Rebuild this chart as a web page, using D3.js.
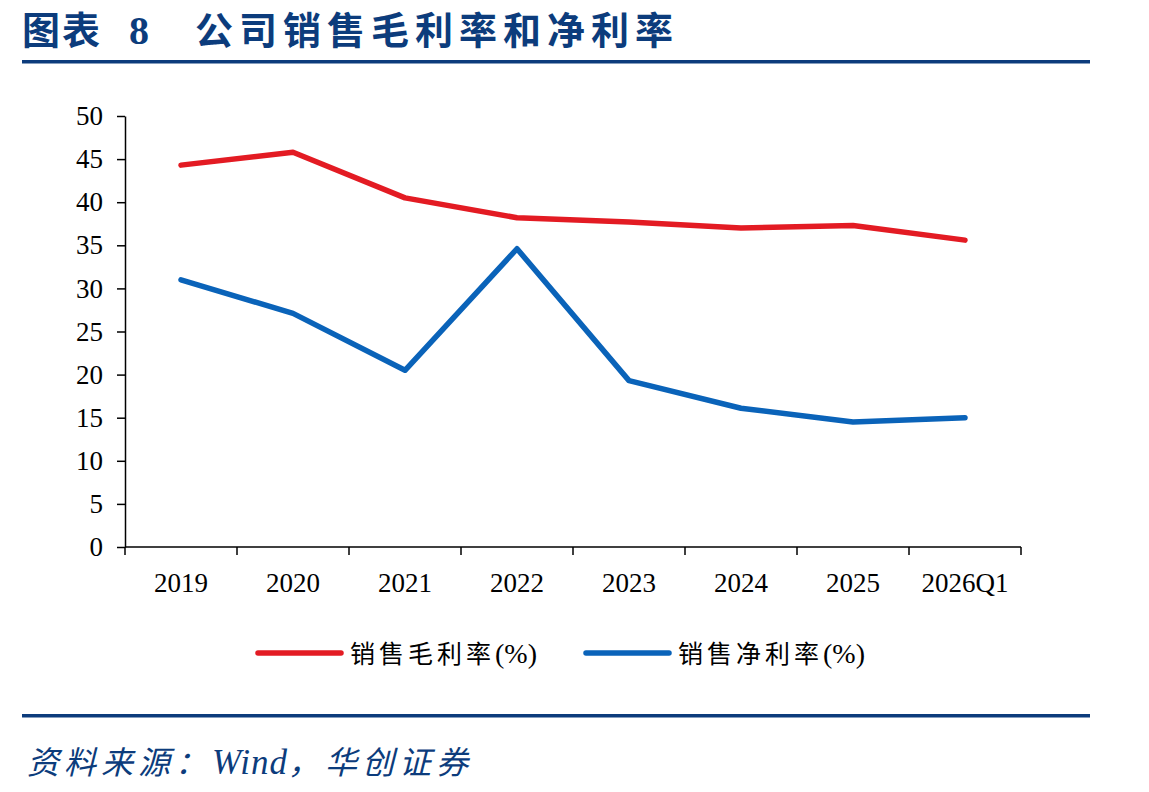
<!DOCTYPE html>
<html>
<head>
<meta charset="utf-8">
<script src="https://cdn.jsdelivr.net/npm/d3@7"></script>
<style>
  body { margin: 0; background: #fff; }
  svg { display: block; }
</style>
</head>
<body>
<svg id="chart" width="1149" height="792"></svg>
<script>
// data
const years = ["2019", "2020", "2021", "2022", "2023", "2024", "2025", "2026Q1"];
const grossMargin = [44.3, 45.8, 40.5, 38.2, 37.7, 37.0, 37.3, 35.6];
const netMargin = [31.0, 27.1, 20.5, 34.6, 19.3, 16.1, 14.5, 15.0];
const yTicks = [0, 5, 10, 15, 20, 25, 30, 35, 40, 45, 50];
const seriesNames = ["销售毛利率", "销售净利率"];

const navy = "#0c3c7c";
const red = "#e31b23";
const blue = "#0a63b9";
const numFont = "'Liberation Serif', 'Times New Roman', serif";
const cjkFont = "'Noto Sans CJK SC', sans-serif";

const svg = d3.select("#chart");

// title
const title = svg.append("text")
    .attr("y", 44)
    .attr("fill", navy)
    .style("font-family", cjkFont)
    .style("font-weight", "bold")
    .style("font-size", "38px");
title.append("tspan").attr("x", 22).style("letter-spacing", "2px").text("图表");
title.append("tspan").attr("x", 129).style("font-family", numFont).style("font-size", "40px").text("8");
title.append("tspan").attr("x", 195).style("letter-spacing", "6px").text("公司销售毛利率和净利率");

svg.append("rect").attr("x", 22).attr("y", 60).attr("width", 1068).attr("height", 3.5).attr("fill", navy);
svg.append("rect").attr("x", 22).attr("y", 714).attr("width", 1068).attr("height", 3.5).attr("fill", navy);

// source
const src = svg.append("text")
    .attr("x", 27).attr("y", 774)
    .attr("fill", navy)
    .style("font-family", cjkFont)
    .style("font-style", "italic")
    .style("font-size", "32px")
    .style("letter-spacing", "5px");
src.append("tspan").text("资料来源：");
src.append("tspan").style("font-family", numFont).style("font-size", "35px").style("letter-spacing", "1px").text("Wind");
src.append("tspan").text("，华创证券");

const x = d3.scaleBand().domain(years).range([125, 1021]);
const y = d3.scaleLinear().domain([0, 50]).range([547, 116]);

// y axis
const yAxis = svg.append("g")
    .attr("transform", "translate(125,0)")
    .call(d3.axisLeft(y).tickValues(yTicks).tickSize(8).tickSizeOuter(0).tickPadding(14));
yAxis.select(".domain").attr("stroke", "#000").attr("stroke-width", 1.5);
yAxis.selectAll(".tick line").attr("stroke", "#000").attr("stroke-width", 1.5);
yAxis.selectAll("text")
    .style("font-family", numFont)
    .style("font-size", "27px")
    .attr("fill", "#000");

// x axis with ticks at band edges
const xAxis = svg.append("g").attr("transform", "translate(0,547)");
xAxis.append("line").attr("x1", 125).attr("x2", 1021).attr("stroke", "#000").attr("stroke-width", 1.5);
const edges = years.map(d => x(d)).concat([x.range()[1]]);
xAxis.selectAll(".edge").data(edges).join("line")
    .attr("class", "edge")
    .attr("x1", d => d).attr("x2", d => d)
    .attr("y1", 0).attr("y2", 8)
    .attr("stroke", "#000").attr("stroke-width", 1.5);
xAxis.selectAll(".lbl").data(years).join("text")
    .attr("class", "lbl")
    .attr("x", d => x(d) + x.bandwidth() / 2)
    .attr("y", 45)
    .attr("text-anchor", "middle")
    .style("font-family", numFont)
    .style("font-size", "27px")
    .text(d => d);

// lines
const line = d3.line()
    .x((d, i) => x(years[i]) + x.bandwidth() / 2)
    .y(d => y(d));

[[grossMargin, red], [netMargin, blue]].forEach(([vals, color]) => {
    svg.append("path")
        .datum(vals)
        .attr("d", line)
        .attr("fill", "none")
        .attr("stroke", color)
        .attr("stroke-width", 5.5)
        .attr("stroke-linejoin", "round")
        .attr("stroke-linecap", "round");
});

// legend
const legend = [[258, red], [586, blue]];
legend.forEach(([lx, color], i) => {
    svg.append("line")
        .attr("x1", lx).attr("x2", lx + 83)
        .attr("y1", 653).attr("y2", 653)
        .attr("stroke", color).attr("stroke-width", 5.5)
        .attr("stroke-linecap", "round");
    const t = svg.append("text")
        .attr("x", lx + 92).attr("y", 663)
        .style("font-family", cjkFont)
        .style("font-size", "25px")
        .style("letter-spacing", "4px");
    t.append("tspan").text(seriesNames[i]);
    t.append("tspan").style("font-family", numFont).style("font-size", "28px").style("letter-spacing", "0px").text("(%)");
});
</script>
</body>
</html>
